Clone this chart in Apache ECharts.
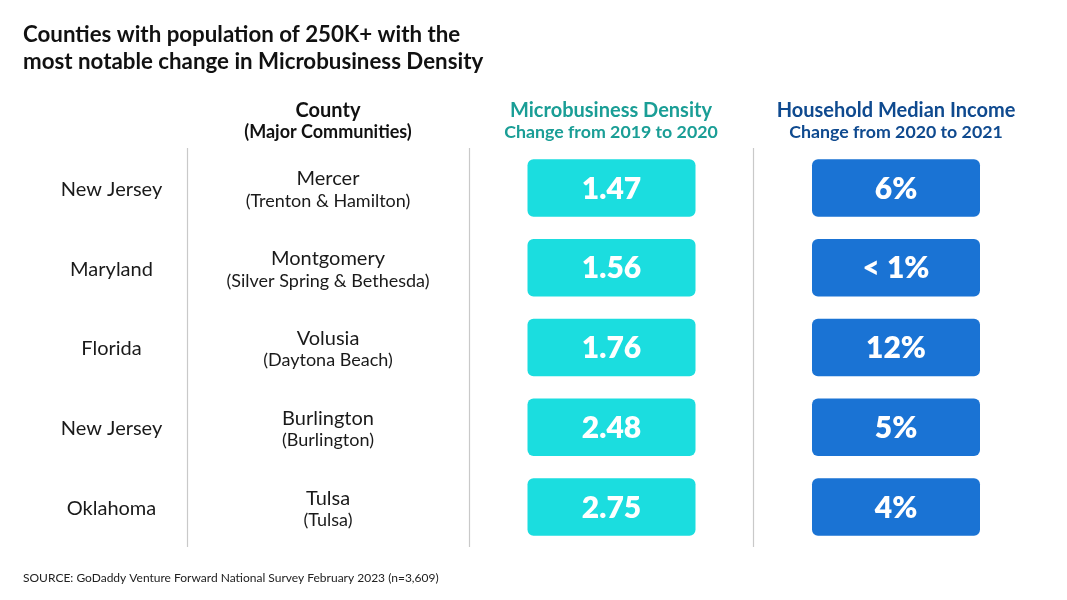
<!DOCTYPE html>
<html>
<head>
<meta charset="utf-8">
<style>html,body{margin:0;padding:0;background:#fff}#c{width:1067px;height:600px}</style>
<script src="https://cdn.jsdelivr.net/npm/echarts@6/dist/echarts.min.js"></script>
</head>
<body>
<div id="c"></div>
<script>
const rows = ['r1','r2','r3','r4','r5'];
const states = ['New Jersey','Maryland','Florida','New Jersey','Oklahoma'];
const counties = ['Mercer','Montgomery','Volusia','Burlington','Tulsa'];
const communities = ['(Trenton & Hamilton)','(Silver Spring & Bethesda)','(Daytona Beach)','(Burlington)','(Tulsa)'];
const densityChange = [1.47,1.56,1.76,2.48,2.75];
const incomeChange = ['6%','< 1%','12%','5%','4%'];

const FONT = 'Lato, "Noto Sans", sans-serif';
const COL = {state:111.5, county:328, density:611, income:896};
const DIV = [187.5,469,753];
const chart = echarts.init(document.getElementById('c'),null,{renderer:'canvas'});

function box(color, xc, cx, labels){
  return function(p, api){
    const c = api.coord([xc, p.dataIndex]);
    const w = 168, h = 57.5;
    return {type:'group',children:[
      {type:'rect',shape:{x:c[0]-w/2,y:c[1]-h/2,width:w,height:h,r:6},style:{fill:color}},
      {type:'text',x:c[0],y:c[1]+1,style:{text:labels[p.dataIndex],fill:'#fff',font:'800 30px '+FONT,align:'center',verticalAlign:'middle'}}
    ]};
  };
}
function txt(t,x,y,size,weight,color,align){
  return {type:'text',x:x,y:y,style:{text:t,fill:color||'#1a1a1a',font:(weight||400)+' '+size+'px '+FONT,align:align||'center',verticalAlign:'middle'}};
}
chart.setOption({
  animation:false,
  backgroundColor:'#fff',
  grid:{left:0,top:148,width:1067,height:399},
  xAxis:{type:'value',min:0,max:1067,show:false},
  yAxis:{type:'category',data:rows,inverse:true,show:false},
  graphic:[
    txt('Counties with population of 250K+ with the',23,35,22.3,700,'#111','left'),
    txt('most notable change in Microbusiness Density',23,62,22.3,700,'#111','left'),
    txt('County',328,110.5,20,700,'#111'),
    txt('(Major Communities)',328,132.5,18,700,'#111'),
    txt('Microbusiness Density',611,110.5,20,700,'#1a9e96'),
    txt('Change from 2019 to 2020',611,132.5,17.75,700,'#1a9e96'),
    txt('Household Median Income',896,110.5,20,700,'#0f4a8f'),
    txt('Change from 2020 to 2021',896,132.5,17.75,700,'#0f4a8f'),
    txt('SOURCE: GoDaddy Venture Forward National Survey February 2023 (n=3,609)',23,578,12,400,'#222','left')
  ],
  series:[
    {type:'custom',name:'State',coordinateSystem:'cartesian2d',silent:true,
      data:rows.map((r,i)=>[COL.state,i]),
      renderItem:(p,api)=>{const c=api.coord([COL.state,p.dataIndex]);
        return txt(states[p.dataIndex],c[0],c[1]+1.5,20,400,'#1a1a1a');}},
    {type:'custom',name:'County',coordinateSystem:'cartesian2d',silent:true,
      data:rows.map((r,i)=>[COL.county,i]),
      renderItem:(p,api)=>{const c=api.coord([COL.county,p.dataIndex]);
        return {type:'group',children:[
          txt(counties[p.dataIndex],c[0],c[1]-9,20,400,'#1a1a1a'),
          txt(communities[p.dataIndex],c[0],c[1]+13,18,400,'#1a1a1a')]};}},
    {type:'custom',name:'Microbusiness Density',coordinateSystem:'cartesian2d',silent:true,
      data:rows.map((r,i)=>[COL.density,i]),
      renderItem:box('#1bdddf',COL.density+0.5,0,densityChange.map(v=>v.toFixed(2))),
      markLine:{silent:true,symbol:'none',label:{show:false},
        lineStyle:{color:'#c9c9c9',width:1.2,type:'solid'},
        data:DIV.map(x=>({xAxis:x}))}},
    {type:'custom',name:'Household Median Income',coordinateSystem:'cartesian2d',silent:true,
      data:rows.map((r,i)=>[COL.income,i]),
      renderItem:box('#1a73d4',COL.income,0,incomeChange)}
  ]
});
</script>
</body>
</html>
